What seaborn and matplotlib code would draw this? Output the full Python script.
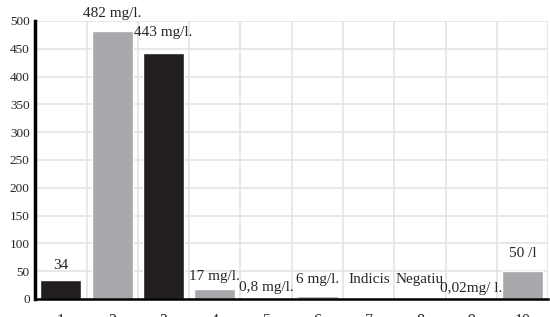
import matplotlib
matplotlib.use("Agg")
import matplotlib.pyplot as plt
import seaborn as sns
import pandas as pd

# data
categories = ["1", "2", "3", "4", "5", "6", "7", "8", "9", "10"]
values = [34, 482, 443, 17, 0.8, 6, 0, 0, 0.02, 50]
bar_labels = ["34", "482 mg/l.", "443 mg/l.", "17 mg/l.", "0,8 mg/l.", "6 mg/l.",
              "Indicis", "Negatiu", "0,02mg/ l.", "50 /l"]
label_offsets = [6, 8, 10, 5, 3, 7, 9, 9, 3, 8]   # points above bar top
colors = ["#231f20", "#a7a9ac", "#231f20", "#a7a9ac", "#231f20",
          "#a7a9ac", "#231f20", "#231f20", "#231f20", "#a7a9ac"]

df = pd.DataFrame({"cat": categories, "val": values})

sns.set_style("white")
plt.rcParams['font.family'] = ['Liberation Serif', 'DejaVu Serif']

fig = plt.figure(figsize=(5.5, 3.17), dpi=100)
ax = fig.add_axes([0.064, 0.057, 0.933, 0.877])

sns.barplot(data=df, x="cat", y="val", hue="cat", palette=colors,
            legend=False, width=0.8, saturation=1, ax=ax, zorder=3)

ax.set_ylim(0, 500)
ax.set_xlim(-0.5, 9.5)
ax.set_yticks(range(0, 501, 50))
ax.set_xlabel("")
ax.set_ylabel("")

# grid: horizontal at ticks, vertical at category boundaries
for yv in range(50, 501, 50):
    ax.axhline(yv, color="#e4e4e4", lw=1.2, zorder=0)
for xb in [i - 0.5 for i in range(1, 11)]:
    ax.axvline(xb, color="#e4e4e4", lw=1.2, zorder=0)

ax.set_xticks([i - 0.5 for i in range(11)], minor=True)
ax.tick_params(axis="x", which="minor", direction="inout", length=6, width=1.2, color="black")
ax.tick_params(axis="x", which="major", length=0, labelsize=11.5, pad=10)
ax.tick_params(axis="y", direction="in", length=4, width=1, color="black",
               labelsize=9.5, pad=4)

for s in ["top", "right"]:
    ax.spines[s].set_visible(False)
ax.spines["left"].set_linewidth(2.5)
ax.spines["left"].set_color("black")
ax.spines["bottom"].set_linewidth(1.8)
ax.spines["bottom"].set_color("black")
ax.spines["left"].set_zorder(5)
ax.spines["bottom"].set_zorder(5)

for i, (v, lab, off) in enumerate(zip(values, bar_labels, label_offsets)):
    ax.annotate(lab, (i, v), xytext=(0, off), textcoords="offset points",
                ha="center", va="bottom", fontsize=11, annotation_clip=False)

fig.savefig("out.png", dpi=100)
